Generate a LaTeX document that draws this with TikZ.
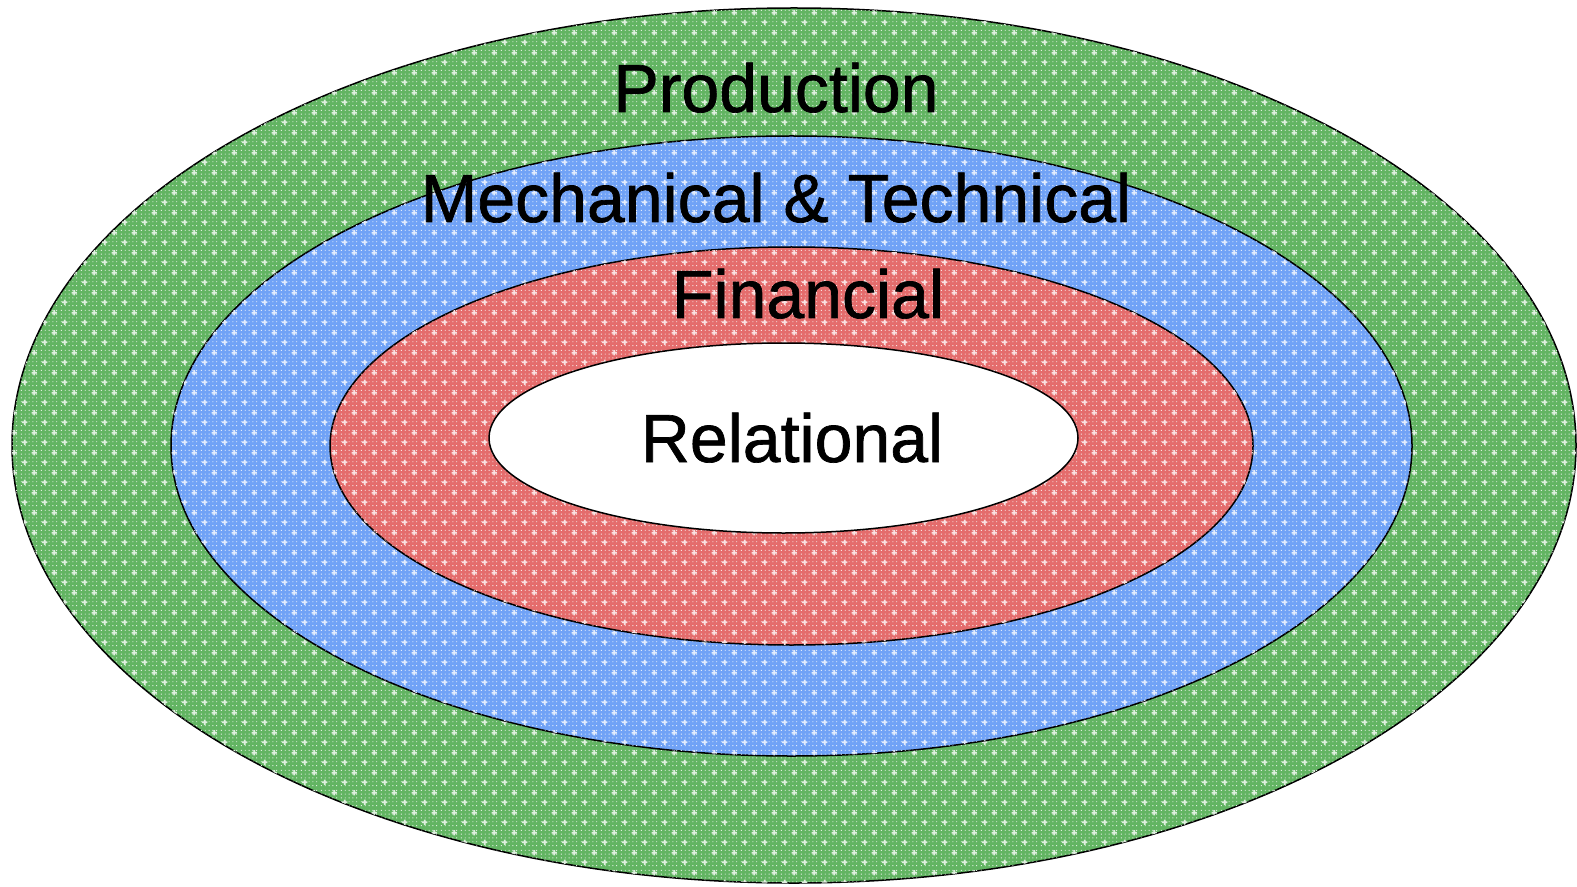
\documentclass[tikz,border=0pt]{standalone}
\usepackage{fontspec}
\setmainfont{Liberation Sans}
\newfontfamily\labelfont{Liberation Sans}[FakeBold=1]
\usetikzlibrary{patterns.meta}
\pgfdeclarepattern{name=starsdots, type=uncolored,
  bottom left={\pgfpoint{0pt}{0pt}}, top right={\pgfpoint{10pt}{10pt}},
  tile size={\pgfpoint{10pt}{10pt}},
  code={
    \pgfsetlinewidth{0.9pt}
    \pgfpathmoveto{\pgfpoint{1.1pt}{2.5pt}}\pgfpathlineto{\pgfpoint{3.9pt}{2.5pt}}
    \pgfpathmoveto{\pgfpoint{2.5pt}{1.1pt}}\pgfpathlineto{\pgfpoint{2.5pt}{3.9pt}}
    \pgfpathmoveto{\pgfpoint{6.1pt}{7.5pt}}\pgfpathlineto{\pgfpoint{8.9pt}{7.5pt}}
    \pgfpathmoveto{\pgfpoint{7.5pt}{6.1pt}}\pgfpathlineto{\pgfpoint{7.5pt}{8.9pt}}
    \pgfusepath{stroke}
    \foreach \i in {0,2,4,6,8}{\foreach \j in {0,2,4,6,8}{
      \pgfpathrectangle{\pgfpoint{\i pt+0.5pt}{\j pt+0.5pt}}{\pgfpoint{0.5pt}{0.5pt}}}}
    \pgfusepath{fill}
  }}
\definecolor{ringgreen}{RGB}{98,180,98}
\definecolor{ringblue}{RGB}{112,162,246}
\definecolor{ringred}{RGB}{228,108,108}
\tikzset{
  ring/.style={draw=black, line width=0.75pt, fill=#1,
    postaction={pattern=starsdots, pattern color=white!80!#1}},
  label/.style={anchor=base, font=\labelfont\fontsize{34}{40}\selectfont, text=black, inner sep=0pt}
}
\begin{document}
\begin{tikzpicture}[x=0.5pt,y=-0.5pt]
\useasboundingbox (0,0) rectangle (1577,887);
\path[ring=ringgreen] (794,445.5) ellipse [x radius=782, y radius=437.5];
\path[ring=ringblue] (791.5,446) ellipse [x radius=620.5, y radius=310];
\path[ring=ringred] (791.5,446) ellipse [x radius=461.5, y radius=199];
\path[draw=black, line width=0.75pt, fill=white] (783.5,438) ellipse [x radius=294.5, y radius=95];
\node[label] (production) at (776,112) {Production};
\node[label] (mechanical) at (776,222) {Mechanical \& Technical};
\node[label] (financial) at (808,318) {Financial};
\node[label] (relational) at (792,462) {Relational};
\end{tikzpicture}
\end{document}
